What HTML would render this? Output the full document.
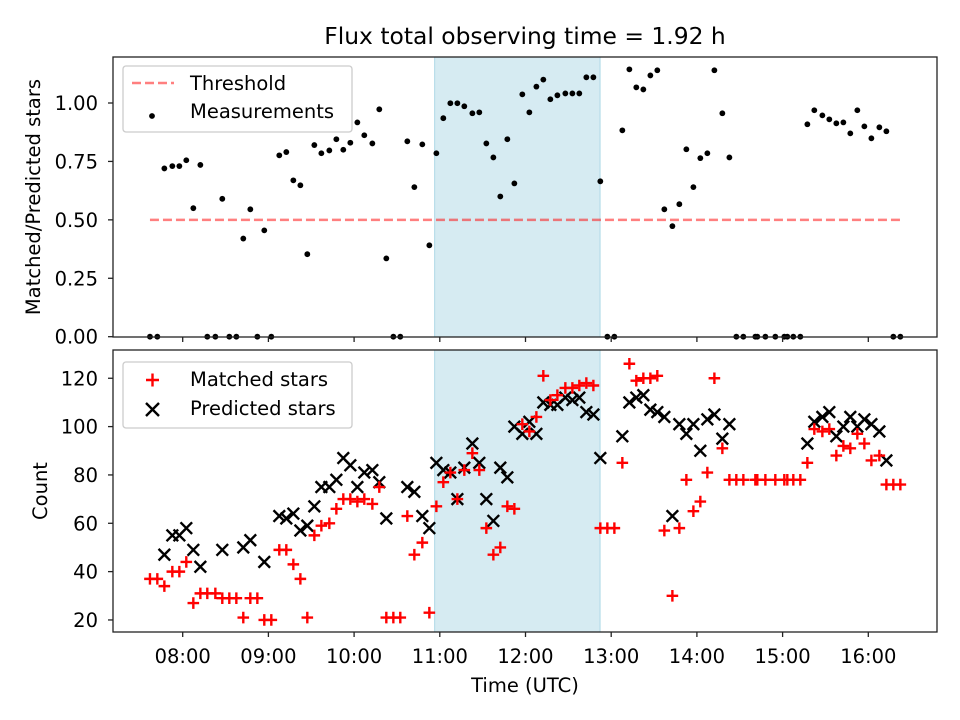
<!DOCTYPE html>
<html><head><meta charset="utf-8">
<style>
html,body{margin:0;padding:0;background:#fff;}
svg{display:block;font-family:"DejaVu Sans","Liberation Sans",sans-serif;}
</style></head>
<body>
<svg id="chart" width="960" height="720" viewBox="0 0 960 720" xmlns="http://www.w3.org/2000/svg">
<rect width="960" height="720" fill="#fff"/>
<text x="525" y="44" font-size="23.4" text-anchor="middle">Flux total observing time = 1.92 h</text>
<g id="topPanel"></g>
<g id="botPanel"></g>
<text x="525" y="692" font-size="19.5" text-anchor="middle">Time (UTC)</text>
<text transform="translate(40,197) rotate(-90)" font-size="19.5" text-anchor="middle">Matched/Predicted stars</text>
<text transform="translate(47,491) rotate(-90)" font-size="19.5" text-anchor="middle">Count</text>
</svg>
<script>
const times=[7.618,7.704,7.786,7.879,7.961,8.042,8.124,8.206,8.287,8.381,8.462,8.544,8.626,8.707,8.789,8.871,8.952,9.034,9.127,9.209,9.291,9.373,9.454,9.536,9.618,9.711,9.793,9.874,9.956,10.038,10.119,10.213,10.294,10.376,10.458,10.539,10.621,10.703,10.796,10.878,10.960,11.041,11.123,11.205,11.286,11.380,11.461,11.543,11.625,11.706,11.788,11.870,11.963,12.045,12.127,12.208,12.290,12.372,12.465,12.547,12.628,12.710,12.792,12.873,12.955,13.037,13.130,13.212,13.293,13.375,13.457,13.538,13.620,13.714,13.795,13.877,13.959,14.040,14.122,14.204,14.297,14.379,14.460,14.542,14.682,14.705,14.799,14.915,15.020,15.055,15.125,15.207,15.289,15.370,15.464,15.545,15.627,15.709,15.790,15.872,15.954,16.036,16.129,16.211,16.292,16.374];
const ratio=[0,0,.72,.73,.73,.755,.55,.735,0,0,.59,0,0,.42,.545,0,.455,0,.776,.79,.669,.648,.353,.82,.785,.797,.845,.80,.83,.917,.862,.827,.973,.335,0,0,.836,.64,.823,.391,.785,.935,.999,.999,.986,.956,.96,.827,.767,.60,.845,.656,1.037,.96,1.07,1.10,1.016,1.033,1.041,1.041,1.041,1.11,1.11,.665,0,0,.883,1.144,1.067,1.058,1.118,1.14,.545,.473,.567,.802,.64,.764,.785,1.14,.956,.767,0,0,0,0,0,0,0,0,0,0,.909,.969,.947,.93,.913,.917,.87,.969,.9,.849,.896,.879,0,0];
const matched=[37,37,34,40,40,44,27,31,31,31,29,29,29,21,29,29,20,20,49,49,43,37,21,55,59,60,66,70,70,69,70,68,75,21,21,21,63,47,52,23,67,77,81,70,82,89,82,58,47,50,67,66,101,98,104,121,111,113,116,116,117,118,117,58,58,58,85,126,119,120,120,121,57,30,58,78,65,69,81,120,91,78,78,78,78,78,78,78,78,78,78,78,85,99,98,99,88,92,91,97,93,86,88,76,76,76];
const predicted=[null,null,47,55,55,58,49,42,null,null,49,null,null,50,53,null,44,null,63,62,64,57,59,67,75,75,78,87,84,75,81,82,77,62,null,null,75,73,63,58,85,82,81,70,83,93,85,70,61,83,79,100,97,102,97,110,109,109,112,111,112,106,105,87,null,null,96,110,112,113,107,106,104,63,101,97,101,90,103,105,95,101,null,null,null,null,null,null,null,null,null,null,93,102,104,106,96,100,104,100,103,101,98,86,null,null];
const hourTicks=[8,9,10,11,12,13,14,15,16];
const hourLabels=["08:00","09:00","10:00","11:00","12:00","13:00","14:00","15:00","16:00"];
const ratioTicks=[0,0.25,0.5,0.75,1.0];
const ratioLabels=["0.00","0.25","0.50","0.75","1.00"];
const countTicks=[20,40,60,80,100,120];
const threshold=0.5;
const shadeStart=10.94, shadeEnd=12.87;

const NS="http://www.w3.org/2000/svg";
const L=113,R=937;
const T1=57,B1=337,T2=350,B2=632;
const FS=19.5;
const X=t=>182.7+(t-8)*85.7;
const Y1=v=>336.7-233.7*v;
const Y2=v=>668.3-2.417*v;
function mk(tag,attrs,parent){const e=document.createElementNS(NS,tag);for(const k in attrs)e.setAttribute(k,attrs[k]);parent.appendChild(e);return e;}
const gTop=document.getElementById('topPanel'),gBot=document.getElementById('botPanel');

function panel(g,T,B,name){
  const s=mk('rect',{x:X(shadeStart),y:T,width:X(shadeEnd)-X(shadeStart),height:B-T,fill:'#add8e6','fill-opacity':0.5,stroke:'#add8e6','stroke-width':1},g);
  
  
}
panel(gTop,T1,B1,'top');
panel(gBot,T2,B2,'bottom');

const th=mk('line',{x1:X(times[0]),x2:X(times[times.length-1]),y1:Y1(threshold),y2:Y1(threshold),stroke:'#ff0000','stroke-opacity':0.5,'stroke-width':2.5,'stroke-dasharray':'9,4'},gTop);



times.forEach((t,i)=>{
  const c=mk('circle',{cx:X(t),cy:Y1(ratio[i]),r:2.9,fill:'#000'},gTop);
  
  
});

times.forEach((t,i)=>{
  if(predicted[i]==null)return;
  const x=X(t),y=Y2(predicted[i]),d=5.8;
  const p=mk('path',{d:`M${x-d},${y-d}L${x+d},${y+d}M${x-d},${y+d}L${x+d},${y-d}`,stroke:'#000','stroke-width':2.4,fill:'none'},gBot);
  
  
});
times.forEach((t,i)=>{
  const x=X(t),y=Y2(matched[i]),d=5.8;
  const p=mk('path',{d:`M${x-d},${y}L${x+d},${y}M${x},${y-d}L${x},${y+d}`,stroke:'#ff0000','stroke-width':2.4,fill:'none'},gBot);
  
  
});

[[gTop,T1,B1,'top'],[gBot,T2,B2,'bottom']].forEach(([g,T,B,n])=>{
  const f=mk('rect',{x:L,y:T,width:R-L,height:B-T,fill:'none',stroke:'#222','stroke-width':1.3},g);
  
  
  hourTicks.forEach((h,i)=>{
    const tk=mk('line',{x1:X(h),x2:X(h),y1:B,y2:B+5,stroke:'#222','stroke-width':1.3},g);
    
    
    if(n==='bottom'){
      const tx=mk('text',{x:X(h),y:B+31,'font-size':FS,'text-anchor':'middle'},g);
      tx.textContent=hourLabels[i];
      
      
    }
  });
});
ratioTicks.forEach((v,i)=>{
  const y=Y1(v);
  const tk=mk('line',{x1:L-5,x2:L,y1:y,y2:y,stroke:'#222','stroke-width':1.3},gTop);
  
  
  const tx=mk('text',{x:L-15,y:y+7,'font-size':FS,'text-anchor':'end'},gTop);
  tx.textContent=ratioLabels[i];
  
  
});
countTicks.forEach(v=>{
  const y=Y2(v);
  const tk=mk('line',{x1:L-5,x2:L,y1:y,y2:y,stroke:'#222','stroke-width':1.3},gBot);
  
  
  const tx=mk('text',{x:L-15,y:y+7,'font-size':FS,'text-anchor':'end'},gBot);
  tx.textContent=String(v);
  
  
});

function legend(g,y0,name){
  const b=mk('rect',{x:123,y:y0,width:229,height:66,rx:3,fill:'#fff','fill-opacity':0.8,stroke:'#ccc','stroke-width':1.3},g);
  
  
}
legend(gTop,66,'top-legend');
legend(gBot,362,'bottom-legend');
const ll=mk('line',{x1:132,x2:174,y1:83,y2:83,stroke:'#ff0000','stroke-opacity':0.5,'stroke-width':2.5,'stroke-dasharray':'9,4'},gTop);


const lt1=mk('text',{x:190,y:90,'font-size':FS},gTop);lt1.textContent='Threshold';


const lc=mk('circle',{cx:152,cy:116,r:2.9,fill:'#000'},gTop);


const lt2=mk('text',{x:190,y:118,'font-size':FS},gTop);lt2.textContent='Measurements';


const lp=mk('path',{d:'M146,380L159,380M152.5,373.5L152.5,386.5',stroke:'#ff0000','stroke-width':2.4},gBot);


const lt3=mk('text',{x:190,y:386,'font-size':FS},gBot);lt3.textContent='Matched stars';


const lx=mk('path',{d:'M146,403L159,416M146,416L159,403',stroke:'#000','stroke-width':2.4},gBot);


const lt4=mk('text',{x:190,y:415,'font-size':FS},gBot);lt4.textContent='Predicted stars';


</script>
</body></html>
